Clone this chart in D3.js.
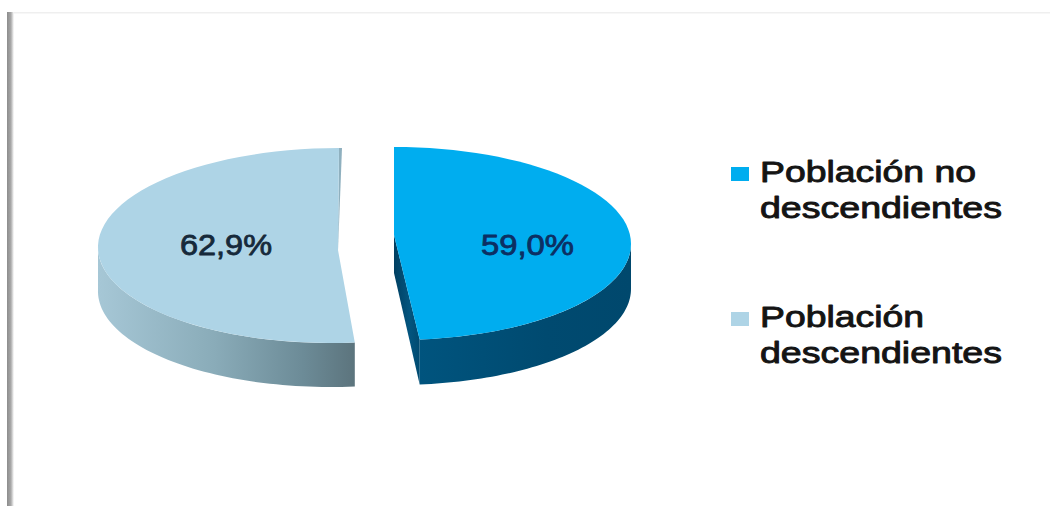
<!DOCTYPE html>
<html lang="es">
<head>
<meta charset="utf-8">
<title>Población no descendientes y descendientes</title>
<script src="https://cdn.jsdelivr.net/npm/d3@7"></script>
<style>
  html, body { margin: 0; padding: 0; background: #fff; }
  svg { display: block; }
  text { font-family: "Liberation Sans", Arial, sans-serif; font-weight: 400; stroke-linejoin: round; }
</style>
</head>
<body>
<svg id="chart" width="1050" height="506"></svg>
<script>
const categories = ["Población no descendientes", "Población descendientes"];
const values = [59.0, 62.9];
const legendLines = [["Población no", "descendientes"], ["Población", "descendientes"]];

const faceColors = ["#00adef", "#aed4e6"];
const labelColors = ["#0c2f63", "#16293a"];

// Each exploded slice is drawn on its own tilted ellipse; skew leans the ellipse axis.
const sliceLayout = [
  { cx: 395, cy: 243.5, rx: 236, ry: 96.5, skew: -1, apexX: 394, apexY: 235, depth: 45, labelX: 481, labelW: 93 },
  { cx: 335, cy: 245.5, rx: 237, ry: 97.5, skew: 4, apexX: 338, apexY: 250, depth: 44, labelX: 180, labelW: 92 }
];
const labelBaseline = 255;

const svg = d3.select("#chart");
const defs = svg.append("defs");

function addGradient(id, stops) {
  const g = defs.append("linearGradient").attr("id", id)
    .attr("x1", "0").attr("y1", "0").attr("x2", "1").attr("y2", "0");
  stops.forEach(([o, c]) => g.append("stop").attr("offset", o).attr("stop-color", c));
}
addGradient("wallLight", [[0, "#a6c7d6"], [0.45, "#8aacb9"], [0.8, "#6c8b97"], [1, "#5c747d"]]);
addGradient("wallBlue", [[0, "#00547e"], [0.6, "#004a70"], [1, "#00486d"]]);
addGradient("innerBlue", [[0, "#003f61"], [0.6, "#03557f"], [1, "#004a70"]]);
addGradient("frameBar", [[0, "#8c8c8c"], [0.55, "#a8a8a8"], [1, "#ffffff"]]);

// Page frame: a soft grey bar on the left and a hairline on top.
svg.append("rect").attr("width", 1050).attr("height", 506).attr("fill", "#fff");
svg.append("rect").attr("x", 11).attr("y", 12).attr("width", 1039).attr("height", 1.5).attr("fill", "#efefef");
svg.append("rect").attr("x", 7).attr("y", 12).attr("width", 7).attr("height", 494).attr("fill", "url(#frameBar)");

const pie = d3.pie().sort(null).startAngle(0).endAngle(2 * Math.PI);
const arcs = pie(values);

const point = (s, t) => [
  s.cx + s.rx * Math.sin(t) + s.skew * Math.cos(t),
  s.cy - s.ry * Math.cos(t)
];
const sample = (a, b, s) => d3.range(61).map(i => point(s, a + (b - a) * i / 60));
const line = d3.line();
const shifted = (pts, dy) => pts.map(([x, y]) => [x, y + dy]);

arcs.forEach((d, i) => {
  const s = sliceLayout[i];
  const g = svg.append("g").attr("class", "slice");
  const apex = [s.apexX, s.apexY];
  const endPt = point(s, d.endAngle);

  if (i === 0) {
    // Cut face on the left of the blue slice, then the curved rim.
    const inner = [apex, endPt, [endPt[0], endPt[1] + s.depth], [apex[0], apex[1] + 38]];
    g.append("path").attr("d", line(inner) + "Z").attr("fill", "url(#innerBlue)");
    const rim = sample(Math.PI / 2, d.endAngle, s);
    g.append("path")
      .attr("d", line(rim.concat(shifted(rim, s.depth).reverse())) + "Z")
      .attr("fill", "url(#wallBlue)");
  } else {
    // Thin sliver of the cut face beside the top of the pale slice, then the rim.
    g.append("path")
      .attr("d", line([apex, endPt, [endPt[0] + 3, endPt[1]]]) + "Z")
      .attr("fill", "#8fb0bf");
    const rim = sample(d.startAngle, 3 * Math.PI / 2, s);
    g.append("path")
      .attr("d", line(rim.concat(shifted(rim, s.depth).reverse())) + "Z")
      .attr("fill", "url(#wallLight)");
  }

  const top = [apex].concat(sample(d.startAngle, d.endAngle, s));
  g.append("path").attr("d", line(top) + "Z").attr("fill", faceColors[i]);
});

// Value labels, printed with a decimal comma.
const fmt = d3.formatLocale({ decimal: ",", thousands: ".", grouping: [3], currency: ["", ""] }).format(".1f");
svg.selectAll("text.value").data(values).join("text")
  .attr("class", "value")
  .attr("x", (_, i) => sliceLayout[i].labelX)
  .attr("y", labelBaseline)
  .attr("font-size", 29)
  .attr("textLength", (_, i) => sliceLayout[i].labelW)
  .attr("lengthAdjust", "spacingAndGlyphs")
  .attr("fill", (_, i) => labelColors[i])
  .attr("stroke", (_, i) => labelColors[i])
  .attr("stroke-width", 0.8)
  .text(v => fmt(v) + "%");

// Legend
const legendTop = [182, 327];
const legend = svg.selectAll("g.legend").data(categories).join("g").attr("class", "legend");
legend.append("rect")
  .attr("x", 731).attr("width", 18).attr("height", 14)
  .attr("y", (_, i) => legendTop[i] - 15)
  .attr("fill", (_, i) => faceColors[i]);
legend.each(function (_, i) {
  d3.select(this).selectAll("text").data(legendLines[i]).join("text")
    .attr("x", 760)
    .attr("y", (_, j) => legendTop[i] + j * 35.5)
    .attr("font-size", 29)
    .attr("textLength", l => l === "descendientes" ? 242 : (l === "Población no" ? 216 : 164))
    .attr("lengthAdjust", "spacingAndGlyphs")
    .attr("fill", "#141414")
    .attr("stroke", "#141414")
    .attr("stroke-width", 0.9)
    .text(l => l);
});
</script>
</body>
</html>
